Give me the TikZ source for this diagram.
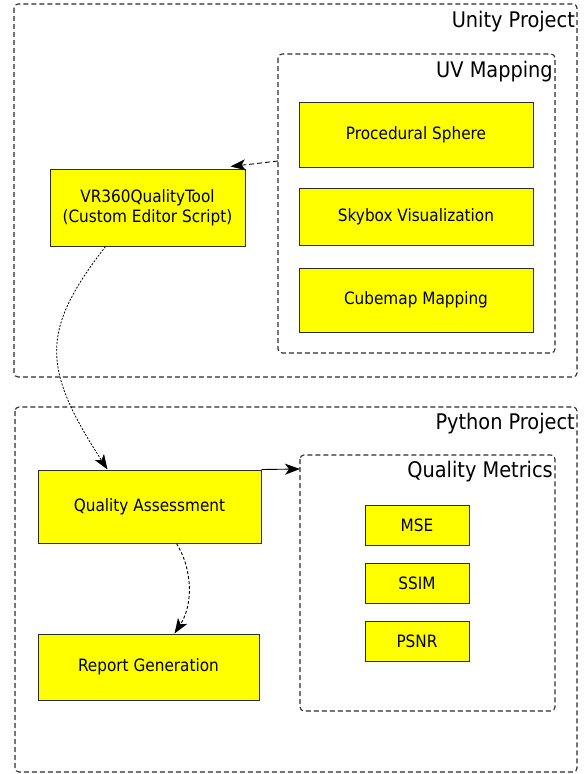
\documentclass[tikz,border=0pt]{standalone}
\usepackage{fontspec}
\setmainfont{DejaVu Sans Condensed}
\usetikzlibrary{arrows.meta,calc}
\definecolor{yel}{RGB}{255,255,0}
\definecolor{edge}{RGB}{45,45,45}
\begin{document}
\begin{tikzpicture}[x=1pt,y=-1pt,
  group/.style={draw=edge,line width=1.1pt,dash pattern=on 5pt off 3pt,rounded corners=4pt},
  ybox/.style={draw=edge,fill=yel,line width=1pt,inner sep=0pt,
     font=\fontsize{17}{20}\selectfont,align=center},
  gtitle/.style={font=\fontsize{21.5}{24}\selectfont,anchor=north east,inner sep=0pt},
  arr/.style={-{Stealth[length=15pt,width=11pt,inset=4pt]},line width=0.9pt}]
\useasboundingbox (0,0) rectangle (585,774);
% groups
\draw[group] (14,4) rectangle (577,377);
\node[gtitle] (tu) at (575,11) {Unity Project};
\draw[group] (278,54) rectangle (555,353);
\node[gtitle] (tuv) at (553,61) {UV Mapping};
\coordinate (uvw) at (278,161);
\draw[group] (15,407) rectangle (577,772);
\node[gtitle] (tp) at (575,413) {Python Project};
\draw[group] (300,455) rectangle (555,711);
\node[gtitle] (tq) at (553,461) {Quality Metrics};
\coordinate (qmw) at (300,469);
% boxes
\node[ybox,minimum width=234pt,minimum height=65pt] (ps) at (416,134.5) {Procedural Sphere};
\node[ybox,minimum width=234pt,minimum height=57pt] (sv) at (416,216.5) {Skybox Visualization};
\node[ybox,minimum width=234pt,minimum height=64pt] (cm) at (416,300) {Cubemap Mapping};
\node[ybox,minimum width=195pt,minimum height=77pt] (vr) at (147.5,207.5) {VR360QualityTool\\(Custom Editor Script)};
\node[ybox,minimum width=223pt,minimum height=73pt] (qa) at (149.5,506.5) {Quality Assessment};
\node[ybox,minimum width=221pt,minimum height=66pt] (rg) at (148.5,667) {Report Generation};
\node[ybox,minimum width=104pt,minimum height=40pt] (mse) at (417,525) {MSE};
\node[ybox,minimum width=104pt,minimum height=40pt] (ssim) at (417,583) {SSIM};
\node[ybox,minimum width=104pt,minimum height=40pt] (psnr) at (417,641) {PSNR};
% connectors
\coordinate (vrtip) at ($(vr.north east)+(-15,-2)$);
\draw[arr,dash pattern=on 5pt off 3pt] (uvw) -- (vrtip);
\coordinate (vrb) at ($(vr.south west)+(56,0)$);
\coordinate (qat) at ($(qa.north west)+(70,0)$);
\draw[arr,dash pattern=on 2pt off 1.5pt,line width=0.8pt] (vrb) .. controls (41,330) and (41,367) .. (qat);
\draw[arr] (qa.north east) -- (qmw);
\coordinate (qab) at ($(qa.south west)+(139,0)$);
\coordinate (rgt) at ($(rg.north west)+(137,0)$);
\draw[arr,dash pattern=on 3pt off 2pt] (qab) .. controls (193,570) and (193,605) .. (rgt);
\end{tikzpicture}
\end{document}
